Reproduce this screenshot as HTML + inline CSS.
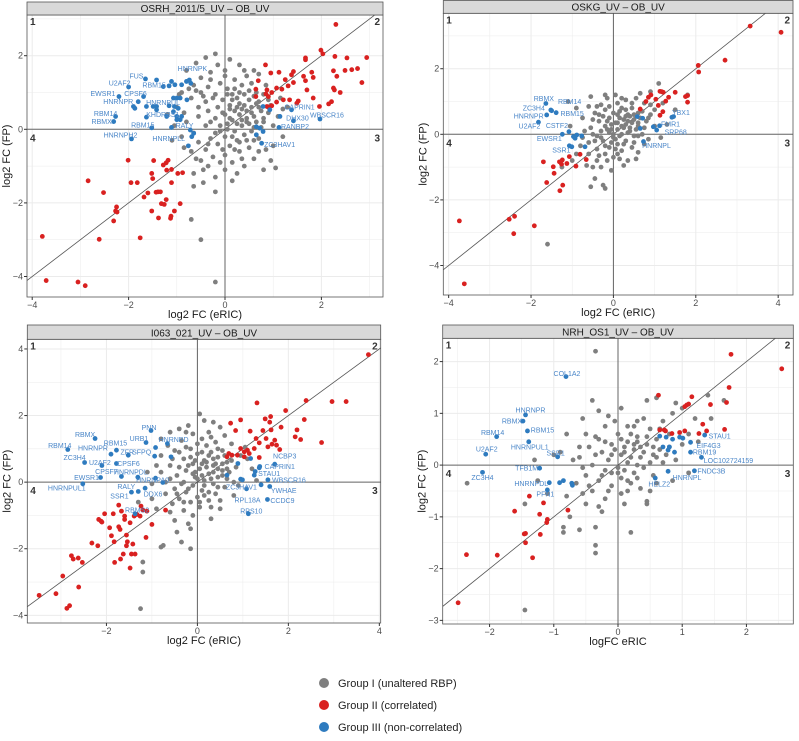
<!DOCTYPE html>
<html><head><meta charset="utf-8"><style>
body{margin:0;background:#fff;width:799px;height:741px;overflow:hidden;font-family:"Liberation Sans",Arial,sans-serif}
svg{display:block}
</style></head><body>
<svg id="chart" width="799" height="741" viewBox="0 0 799 741" xmlns="http://www.w3.org/2000/svg" font-family="Liberation Sans, Arial, sans-serif">
<g id="legend">
<g><circle cx="324" cy="683" r="5" fill="#7f7f7f"/><text x="338" y="687" font-size="11" fill="#222">Group I (unaltered RBP)</text></g>
<g><circle cx="324" cy="705" r="5" fill="#d92120"/><text x="338" y="709" font-size="11" fill="#222">Group II (correlated)</text></g>
<g><circle cx="324" cy="727" r="5" fill="#2e7bbf"/><text x="338" y="731" font-size="11" fill="#222">Group III (non-correlated)</text></g>
</g>
</svg>
<script>
// ---------- Panel 1 data ----------
const p1Gray=[[-0.2,2.05],[-0.4,1.95],[0.1,1.9],[0.3,1.75],[0.6,1.6],[-0.6,1.8],[-0.8,1.6],[-0.3,1.55],[0,1.6],[0.45,1.45],[0.7,1.5],[-0.5,1.4],[0.2,1.35],[-0.1,1.25],[0.35,1.2],[0.55,1.25],[-0.65,1.2],[-0.35,1.15],[0.05,1.1],[0.85,1.2],[-0.9,1.0],[-0.5,1.0],[-0.2,0.95],[0.15,0.95],[0.4,0.95],[0.65,1.0],[0.25,0.85],[0.5,0.8],[-0.05,0.8],[-0.7,0.85],[-0.4,0.75],[0.7,0.75],[0.3,0.7],[0.1,0.65],[-0.15,0.6],[0.55,0.6],[0.45,0.5],[0.2,0.5],[-0.35,0.5],[0.75,0.5],[0.9,0.45],[0,0.4],[0.3,0.4],[0.6,0.35],[-0.55,0.35],[-0.2,0.3],[0.15,0.25],[0.45,0.2],[0.8,0.2],[-0.8,0.2],[0.05,0.15],[0.35,0.1],[-0.4,0.1],[0.6,0.05],[0.2,-0.05],[-0.1,-0.05],[-0.65,-0.1],[0.4,-0.15],[0,-0.2],[-0.3,-0.25],[0.7,-0.25],[0.25,-0.3],[-0.55,-0.35],[-0.15,-0.4],[0.1,-0.45],[0.5,-0.5],[-0.4,-0.55],[0.3,-0.6],[-0.7,-0.6],[0,-0.7],[-0.25,-0.75],[0.6,-0.8],[-0.5,-0.85],[0.15,-0.9],[0.95,-0.85],[-0.35,-1.0],[0,-1.1],[0.4,-1.0],[0.8,-1.1],[-0.65,-1.2],[-0.2,-1.3],[-0.45,-1.45],[-0.65,-1.55],[-0.2,-1.7],[-0.7,-2.45],[-0.5,-3.0],[-0.2,-4.15],[1.0,-0.45],[1.2,-0.2],[1.0,0.1],[1.1,0.35],[1.3,0.6],[0.95,0.65],[1.15,0.85],[-1.0,0.6],[-1.2,0.4],[-1.05,0.1],[-0.9,-0.2],[-0.85,-0.5],[-1.1,-0.3],[-0.55,0.6],[0.85,-0.55],[0.6,-0.3],[0.25,0.15],[0.5,0.15],[0.1,0.3],[0.35,0.55],[-0.05,0.45],[0.65,0.7],[0.2,1.1],[0.45,0.3],[0.55,-0.05],[0.75,0.05],[-0.3,0.2],[0.3,-0.35],[-0.1,0.1],[0.15,-0.2]];
const p1GrayExtra=[[0.1,0.55],[0.4,0.65],[0.6,0.9],[0.8,0.95],[0.3,1.0],[0.5,1.05],[0.15,0.8],[0.7,0.6],[0.9,0.8],[0.25,0.6],[0.05,0.95],[-0.25,0.85],[-0.45,0.9],[-0.6,1.05],[-0.75,1.1],[-0.3,1.35],[0,1.45],[0.4,1.6],[-0.15,1.75],[0.55,0.45],[0.8,0.3],[0.65,0.2],[0.35,0.25],[0.05,0],[-0.2,-0.1],[0.45,-0.3],[0.2,-0.55],[-0.05,-0.55],[-0.35,-0.4],[0.7,-0.6],[0.35,-0.8],[-0.6,-0.8],[-0.1,-0.9],[0.25,-1.2],[-0.45,-1.1],[1.05,-1.05],[0.15,-1.4],[-0.85,0.45],[-0.95,0.95],[1.2,0.55]];
const p1Red=[[2.3,2.85],[1.99,2.15],[2.03,2.05],[2.28,1.98],[1.67,1.94],[1.67,1.89],[2.53,1.94],[2.94,1.95],[2.75,1.65],[2.63,1.62],[2.49,1.6],[2.25,1.59],[2.32,1.44],[2.84,1.27],[2.25,1.12],[2.27,1.07],[2.39,1.0],[1.8,1.55],[1.83,1.41],[1.67,1.32],[1.63,1.44],[1.42,1.57],[1.38,1.48],[1.25,1.35],[1.12,1.55],[0.95,1.53],[0.84,1.75],[1.42,1.27],[1.31,1.18],[1.18,1.09],[1.07,1.12],[0.87,1.07],[0.97,1.0],[0.9,0.89],[0.85,0.96],[0.64,0.89],[1.83,0.85],[1.7,1.07],[2.15,0.69],[2.21,0.75],[1.96,0.62],[1.52,0.77],[1.49,0.71],[1.34,0.8],[1.21,0.8],[1.07,0.74],[0.97,0.64],[0.87,0.62],[0.9,0.6],[0.69,1.32],[0.64,1.09],
[-3.79,-2.91],[-3.71,-4.11],[-3.05,-4.15],[-2.9,-4.25],[-2.84,-1.4],[-2.52,-1.72],[-2.61,-2.99],[-2.25,-2.11],[-2.27,-2.22],[-2.24,-2.25],[-2.31,-2.49],[-2.01,-0.84],[-1.95,-1.45],[-1.82,-1.45],[-1.76,-2.95],[-1.68,-1.84],[-1.6,-1.73],[-1.52,-1.2],[-1.48,-0.85],[-1.5,-1.34],[-1.52,-2.22],[-1.43,-1.71],[-1.39,-1.7],[-1.34,-1.7],[-1.32,-2.02],[-1.26,-2.04],[-1.22,-1.91],[-1.38,-2.41],[-1.28,-0.97],[-1.22,-0.91],[-1.18,-0.84],[-1.21,-1.11],[-1.11,-1.09],[-1.11,-1.45],[-1.12,-2.36],[-1.13,-2.42],[-1.05,-2.22],[-0.98,-1.2],[-0.88,-1.18],[-0.93,-2.02]];
const p1Blue=[[-1.65,1.37,"FUS"],[-2.0,1.15,"U2AF2"],[-1.16,1.18,"RBM15"],[-2.2,0.89,"EWSR1"],[-1.69,0.89,"CPSF6"],[-1.8,0.75,"HNRNPR"],[-1.16,0.64,"HNRNPUL"],[-0.8,1.3,"HNRNPK"],[-2.27,0.35,"RBM14"],[-2.31,0.21,"RBMX"],[-1.0,0.35,"KHDRBS1"],[-1.52,0.04,"RBM15"],[-1.11,0.05,"RALY"],[-1.94,-0.26,"HNRNPH2"],[-0.69,-0.2,"HNRNPLL"],[1.38,0.53,"CAPRIN1"],[1.42,0.23,"DHX30"],[1.97,0.28,"WBSCR16"],[1.12,0.05,"RANBP2"],[0.76,-0.38,"ZC3HAV1"],
[-1.42,1.34,""],[-1.11,1.3,""],[-1.04,1.21,""],[-0.9,1.21,""],[-0.74,1.34,""],[-0.71,1.25,""],[-1.28,1.16,""],[-1.63,0.62,""],[-1.49,0.62,""],[-1.42,0.53,""],[-1.9,0.62,""],[-1.87,0.57,""],[-1.63,0.33,""],[-1.07,0.85,""],[-1.0,0.85,""],[-0.93,0.85,""],[-0.79,0.8,""],[-1.05,0.62,""],[-1.0,0.26,""],[-0.93,0.26,""],[-0.9,0.35,""],[-1.07,0.48,""],[-0.97,0.57,""],[-1.42,0.62,""],[-1.21,0.35,""],[-0.72,-0.02,""],[-0.65,-0.11,""],[-0.76,-0.45,""],[0.65,0.07,""],[0.72,0.03,""],[0.79,-0.06,""],[0.65,-0.15,""],[1.14,0.35,""],[0.93,0.53,""],[0.79,0.62,""]];
const p1LabelOffsets=[[-9,-3],[-9,-4],[-15,-1],[-16,-3],[-8,-3],[-20,0],[-6,-3],[6,-13],[-10,-3],[-12,0],[-14,-2],[-9,-3],[13,-2],[-11,-4],[-23,2],[8,-3],[4,-3],[7,-4],[16,-1],[18,1]];
// ---------- Panel 2 data ----------
const p2Gray=[[1.8,1.2],[1.1,1.55],[0.9,1.3],[-0.55,1.15],[-0.15,1.1],[0.3,1.05],[0.55,1.1],[0.1,0.95],[-0.3,0.9],[0.75,0.95],[-0.2,0.75],[0.2,0.8],[0.45,0.8],[0.6,0.65],[-0.45,0.65],[0,0.65],[0.35,0.6],[-0.1,0.5],[0.15,0.5],[0.5,0.45],[-0.35,0.4],[0.8,0.4],[0.05,0.35],[0.3,0.3],[-0.2,0.25],[0.6,0.25],[-0.55,0.2],[0.1,0.15],[0.4,0.1],[-0.1,0.05],[0.2,0],[-0.4,-0.05],[0.5,-0.05],[0,-0.1],[-0.25,-0.2],[0.3,-0.2],[-0.6,-0.25],[0.1,-0.3],[-0.1,-0.4],[0.45,-0.4],[-0.4,-0.45],[0.2,-0.5],[-0.2,-0.6],[0.6,-0.55],[-0.6,-0.6],[0,-0.7],[0.35,-0.8],[-0.4,-0.8],[0.25,-0.95],[-0.3,-1.0],[-0.05,-1.1],[-0.45,-1.35],[-0.25,-1.55],[-0.55,-1.6],[-0.2,-1.65],[-1.6,-3.35],[-1.25,-1.0],[-1.0,-0.8],[-0.8,-0.35],[-1.05,0.25],[-0.75,0.5],[-0.9,0.8],[-1.1,1.0],[-0.2,1.2],[0.9,0.6],[1.0,0.25],[0.85,-0.15],[1.2,0.95],[0.65,1.25],[0.4,0.55],[0.7,0],[-0.75,-0.1],[-0.5,0],[0.15,0.7],[-0.05,0.3],[0.25,0.45],[0.55,0.15],[-0.3,-0.1],[0.05,-0.15],[0.35,0.05],[-0.15,0.15],[0.45,0.35],[0.1,0.35],[-0.05,-0.25],[0.25,0.2],[0.75,0.2],[-0.65,-0.95],[-0.9,-0.6],[0.15,-0.75],[1.5,0.75],[1.3,0.3],[1.15,-0.1],[-0.35,0.6],[0.65,0.5]];
const p2GrayExtra=[[0.1,0.6],[0.3,0.75],[-0.1,0.85],[0.5,0.6],[0.2,0.25],[-0.15,0.4],[0.4,0.2],[0,0],[-0.3,0.1],[0.15,-0.05],[0.6,0.35],[0.35,0.4],[-0.2,-0.35],[0.25,-0.3],[-0.45,-0.2],[0.05,-0.45],[0.5,-0.25],[-0.35,-0.65],[0.1,-0.6],[0.45,0.95],[0.7,0.7],[-0.5,0.45],[0.9,0.9],[0.2,1.1],[-0.4,0.85],[0.75,-0.3],[-0.7,0.1],[-0.15,-0.8],[0.55,-0.75],[-0.5,-1.0],[0.3,0.55],[-0.05,0.15],[0.6,-0.05],[1.0,0.75],[-0.25,0.55],[0.05,1.2],[-0.6,0.85],[0.85,0.5]];
const p2Red=[[3.32,3.3],[4.07,3.11],[2.71,2.26],[2.06,2.1],[2.07,1.9],[1.8,1.18],[1.8,0.98],[1.75,1.15],[1.5,1.28],[1.34,1.13],[1.27,1.01],[1.17,1.3],[1.13,1.31],[1.21,1.28],[0.91,1.2],[0.85,1.13],[1.03,1.07],[1.09,0.88],[1.13,0.58],[1.2,0.69],[0.65,0.77],[0.79,1.0],[-1.7,-0.84],[-1.62,-1.47],[-1.46,-0.99],[-1.44,-1.19],[-1.31,-0.84],[-1.26,-0.91],[-1.24,-0.78],[-1.23,-1.55],[-1.3,-1.72],[-1.13,-0.89],[-1.07,-0.68],[-0.91,-0.97],[-0.81,-0.61],[-0.66,-0.77],[-3.74,-2.64],[-3.62,-4.56],[-2.53,-2.59],[-2.4,-2.5],[-2.42,-3.03],[-1.92,-2.79]];
const p2Blue=[[-1.64,0.94,"RBMX"],[-1.5,0.72,"RBM14"],[-1.52,0.74,"ZC3H4"],[-1.39,0.66,"RBM15"],[-1.62,0.59,"HNRNPR"],[-1.82,0.37,"U2AF2"],[-1.08,0.08,"CSTF2"],[-1.24,0,"EWSR1"],[-1.07,-0.35,"SSR1"],[1.42,0.52,"YBX1"],[1.12,0.26,"FMR1"],[1.05,0.13,"SRP68"],[0.73,-0.22,"HNRNPL"],
[1.46,0.54,""],[-0.97,-0.07,""],[-0.93,-0.12,""],[-0.89,-0.02,""],[-0.77,-0.05,""],[-0.69,-0.38,""],[-1.01,-0.38,""],[0.65,0.18,""],[0.97,0.23,""],[0.58,0.54,""],[0.71,0.49,""]];
const p2LabelOffsets=[[-2,-5],[18,-9],[-17,-2],[16,1],[-18,1],[-9,4],[-12,-6],[-13,4],[-8,4],[9,-5],[11,-2],[19,2],[13,4]];
// ---------- Panel 3 data ----------
const p3Gray=[[0.05,2.05],[-0.2,1.7],[0.15,1.85],[0.35,1.8],[0.5,1.65],[-0.4,1.6],[-0.6,1.5],[-0.8,1.3],[0.25,1.5],[-0.1,1.45],[0.6,1.4],[0.1,1.3],[-0.35,1.25],[0.4,1.2],[-0.65,1.1],[0.2,1.1],[0.75,1.15],[-0.15,1.0],[0.55,0.95],[-0.5,0.95],[0.3,0.9],[0,0.85],[-0.8,0.8],[0.45,0.75],[-0.3,0.7],[0.15,0.65],[0.65,0.6],[-0.1,0.55],[0.35,0.5],[-0.6,0.5],[0.05,0.4],[0.55,0.35],[-0.25,0.35],[0.25,0.25],[-0.45,0.2],[0.45,0.15],[-0.05,0.15],[0.15,0.05],[-0.3,0],[0.35,-0.05],[-0.1,-0.1],[0.6,-0.15],[-0.5,-0.2],[0.1,-0.25],[-0.25,-0.3],[0.4,-0.35],[-0.7,-0.35],[0,-0.45],[-0.4,-0.5],[0.25,-0.55],[-0.15,-0.6],[0.5,-0.55],[-0.55,-0.65],[0.05,-0.75],[-0.3,-0.85],[0.3,-1.1],[-0.1,-1.0],[-0.5,-1.15],[-0.2,-1.25],[-0.35,-1.8],[-0.15,-2.0],[-0.8,-1.95],[-0.75,-1.9],[-1.2,-2.4],[-1.2,-2.7],[-1.25,-3.8],[-1.0,-0.5],[-1.3,-0.6],[-0.9,-0.8],[-1.1,0.3],[-0.9,0.5],[-1.0,-0.05],[0.85,0.45],[0.95,0.8],[0.7,0.3],[1.2,0.4],[0.9,-0.1],[1.3,0.05],[0.8,-0.4],[0.5,-0.8],[0.2,0.45],[0.4,0.55],[0.1,0.2],[-0.2,0.5],[0.3,0.1],[0,0.1],[-0.05,0.3],[0.25,0.8],[-0.4,0.45],[0.6,0.8],[0.65,0.1],[-0.35,-0.05],[0.15,-0.4],[-0.6,0.1],[0.45,0.4],[-0.15,0.75],[1.05,1.05],[-0.25,1.05]];
const p3GrayExtra=[[0.2,0.6],[0.45,1.0],[0.1,0.9],[-0.1,0.25],[0.35,0.3],[0.55,0.55],[0.75,0.65],[-0.4,0.9],[-0.55,0.7],[0,1.15],[0.3,1.35],[-0.25,1.5],[0.15,-0.1],[-0.2,-0.2],[0.45,-0.15],[-0.45,-0.35],[0.05,-0.6],[-0.3,-0.6],[0.3,-0.75],[-0.6,-0.9],[-0.15,-1.4],[-0.45,-1.5],[0.8,0],[1.1,0.7],[0.65,0.4],[-0.8,0.3],[-0.7,0],[0.1,0.55],[0.35,0.7],[-0.05,0.65],[0.55,0.2],[0.25,-0.3]];
const p3Red=[[3.76,3.83],[2.39,2.45],[2.96,2.42],[3.27,2.42],[1.31,2.38],[1.94,2.15],[2.35,1.88],[1.49,1.9],[1.61,1.97],[1.59,1.8],[0.73,1.77],[0.95,1.87],[2.19,1.57],[1.84,1.65],[1.44,1.55],[1.62,1.57],[0.84,1.55],[1.16,1.53],[2.15,1.36],[2.27,1.28],[2.73,1.19],[1.51,1.31],[1.7,1.26],[1.64,1.14],[1.74,1.11],[1.81,0.98],[1.55,1.06],[1.29,1.31],[1.36,1.18],[1.25,1.01],[1.1,0.96],[0.95,1.01],[1.03,0.91],[0.88,0.81],[1.03,0.76],[1.14,0.86],[0.76,0.81],[1.36,0.74],[0.69,0.86],[0.65,0.76],
[-3.48,-3.4],[-3.11,-3.35],[-2.96,-2.82],[-2.87,-3.79],[-2.81,-3.71],[-2.61,-3.15],[-2.77,-2.21],[-2.73,-2.31],[-2.62,-2.28],[-2.53,-2.41],[-2.32,-1.83],[-2.19,-1.91],[-2.17,-1.12],[-2.12,-1.17],[-2.1,-1.2],[-2.04,-0.95],[-1.85,-0.95],[-1.93,-1.37],[-1.89,-1.61],[-1.83,-1.79],[-1.82,-2.41],[-1.73,-0.69],[-1.73,-1.34],[-1.7,-1.42],[-1.67,-0.87],[-1.6,-1.02],[-1.6,-1.12],[-1.56,-1.59],[-1.54,-1.79],[-1.56,-1.91],[-1.69,-2.31],[-1.63,-2.16],[-1.48,-2.58],[-1.45,-2.16],[-1.37,-2.16],[-1.42,-1.86],[-1.48,-1.22],[-1.39,-1.02],[-1.33,-0.97],[-1.26,-1.02],[-1.24,-0.72],[-1.2,-0.84],[-1.11,-0.87],[-1.13,-1.66],[-1.0,-1.27],[-0.7,-0.84]];
const p3Blue=[[-2.25,1.31,"RBMX"],[-2.85,0.98,"RBM14"],[-1.78,0.96,"RBM15"],[-1.9,0.84,"HNRNPR"],[-2.48,0.59,"ZC3H4"],[-2.1,0.5,"U2AF2"],[-1.78,0.56,"CPSF6"],[-1.52,0.81,"ZFR"],[-0.94,0.78,"SFPQ"],[-1.13,1.19,"URB1"],[-1.02,1.55,"PNN"],[-0.92,1.04,"HNRNPD"],[-2.13,0.14,"EWSR1"],[-1.67,0.17,"CPSF7"],[-1.31,0.15,"HNRNPDL"],[-0.92,0.12,"HNRNPA0"],[-2.52,-0.05,"HNRNPUL1"],[-1.3,-0.28,"RALY"],[-1.45,-0.3,"SSR1"],[-1.15,-0.18,"DDX6"],[-1.37,-0.95,"RBMS2"],[1.7,0.54,"NCBP3"],[1.37,0.47,"CAPRIN1"],[1.27,0.32,"STAU1"],[1.55,0.07,"WBSCR16"],[0.99,0.07,"ZC3HAV1"],[1.59,-0.13,"YWHAE"],[1.08,-0.2,"RPL18A"],[1.54,-0.52,"CCDC9"],[1.12,-0.95,"RPS10"],
[0.89,0.56,""],[1.17,0.71,""],[1.36,0.43,""],[1.25,0.21,""],[1.4,-0.08,""],[0.95,0.09,""],[0.65,0.21,""],[-0.76,-0.01,""],[-0.58,0.76,""],[-0.66,1.16,""]];
const p3LabelOffsets=[[-10,-4],[-8,-4],[-1,-7],[-18,-6],[-10,-5],[-2,-3],[12,0],[-1,-3],[-13,-4],[-7,-4],[-2,-3],[18,-8],[-14,0],[-15,-5],[-7,-5],[-3,2],[-16,4],[-12,-5],[-12,4],[8,6],[2,-4],[10,-8],[20,0],[14,2],[21,0],[-1,7],[14,4],[1,11],[15,1],[3,-3]];
// ---------- Panel 4 data ----------
const p4Gray=[[-0.35,2.2],[-0.4,1.25],[-0.55,0.9],[-0.15,0.95],[0.05,1.1],[-0.3,1.05],[0.45,1.25],[0.6,1.3],[0.9,1.2],[0.85,1.0],[1.0,1.1],[1.4,1.35],[1.65,1.25],[0.3,0.85],[0.15,0.75],[-0.2,0.75],[0.5,0.7],[-0.5,0.6],[0.7,0.85],[0,0.6],[0.3,0.55],[-0.3,0.5],[0.6,0.5],[0.15,0.45],[-0.1,0.4],[0.45,0.4],[-0.45,0.35],[0.8,0.35],[0.25,0.3],[-0.25,0.25],[0.05,0.2],[0.55,0.2],[-0.6,0.15],[0.35,0.15],[-0.15,0.1],[0.15,0.05],[0.7,0.05],[-0.4,0],[0,-0.05],[0.4,-0.05],[-0.2,-0.1],[0.25,-0.15],[-0.5,-0.2],[0.05,-0.25],[0.55,-0.2],[-0.3,-0.3],[0.2,-0.35],[-0.65,-0.35],[-0.1,-0.4],[0.35,-0.45],[-0.4,-0.5],[0.05,-0.55],[0.45,-0.7],[-0.2,-0.65],[-0.5,-0.75],[-0.8,-0.6],[-0.75,-1.0],[-0.85,-1.2],[-0.85,-1.3],[-0.6,-1.25],[-0.35,-1.2],[-0.35,-1.55],[-0.35,-1.7],[-0.25,-0.9],[0.2,-1.3],[-1.45,-2.8],[-2.35,-0.35],[-1.45,-0.75],[-1.25,-0.3],[-1.0,0.2],[-0.8,0.6],[-0.9,0.25],[-1.3,0.1],[-1.1,-0.55],[1.2,0.9],[1.1,0.6],[1.0,0.4],[1.25,0.45],[0.9,0.1],[1.1,-0.15],[0.85,-0.3],[0.45,-0.75],[0.1,0.25],[0.3,0],[-0.05,0.3],[0.2,0.6],[-0.35,0.55],[0.65,0.3],[0.4,0.25],[-0.1,-0.15],[0.1,-0.1],[0.5,0.05],[-0.55,-0.05],[0.25,0.4],[0.8,0.6],[1.45,0.9]];
const p4GrayExtra=[[0.1,0.35],[0.35,0.35],[-0.2,0.45],[0.45,0.55],[0.6,0.15],[0.05,0.5],[-0.35,0.2],[0.2,0.15],[0,-0.15],[-0.25,-0.2],[0.3,-0.25],[-0.45,-0.4],[0.15,-0.5],[-0.15,-0.5],[0.6,-0.35],[0.25,0.75],[-0.05,0.85],[0.4,0.9],[-0.6,0.35],[0.75,0.2],[0.5,-0.5],[-0.55,-0.55],[-0.3,-0.8],[0.1,-0.75],[-0.7,0.1],[0.3,0.45],[0.55,0.35],[-0.1,0.2],[0.15,-0.3],[0.65,0.7]];
const p4Red=[[1.76,2.14],[2.55,1.86],[1.73,1.5],[1.69,1.21],[1.44,1.17],[1.15,1.32],[1.07,1.16],[1.04,1.13],[1.1,1.18],[0.63,1.35],[1.32,0.79],[1.66,0.69],[1.38,0.66],[1.26,0.61],[1.04,0.66],[0.96,0.63],[0.84,0.61],[0.72,0.68],[0.74,0.66],[0.65,0.68],[-1.38,-0.6],[-1.61,-0.89],[-1.16,-0.73],[-1.22,-0.95],[-1.1,-1.05],[-1.11,-1.11],[-1.44,-1.32],[-1.46,-1.33],[-1.21,-1.34],[-1.44,-1.5],[-1.33,-1.79],[-1.88,-1.74],[-2.36,-1.73],[-2.49,-2.66],[-0.78,-0.87]];
const p4Blue=[[-0.81,1.71,"COL1A2"],[-1.44,0.97,"HNRNPR"],[-1.48,0.85,"RBMX"],[-1.41,0.66,"RBM15"],[-1.89,0.55,"RBM14"],[-1.39,0.45,"HNRNPUL1"],[-2.06,0.21,"U2AF2"],[-0.94,0.16,"SSR1"],[-1.22,-0.06,"TFB1M"],[-2.11,-0.14,"ZC3H4"],[-1.07,-0.34,"HNRNPDL"],[-1.1,-0.48,"PFN1"],[1.35,0.58,"STAU1"],[1.13,0.44,"EIF4G3"],[1.13,0.25,"RBM19"],[1.3,0.15,"LOC102724159"],[1.19,-0.11,"FNDC3B"],[0.78,-0.12,"HNRNPL"],[0.58,-0.25,"HELZ2"],
[0.65,0.56,""],[0.75,0.54,""],[0.85,0.5,""],[0.96,0.54,""],[1.01,0.52,""],[0.8,0.35,""],[0.88,0.25,""],[0.7,0.35,""],[0.78,0.29,""],[-0.85,-0.3,""],[-0.72,-0.35,""],[-0.71,-0.39,""],[-0.91,-0.34,""]];
const p4LabelOffsets=[[1,-3],[5,-5],[-11,0],[15,-1],[-4,-4],[1,5],[1,-5],[-2,-4],[-13,0],[0,5],[-18,1],[-2,4],[15,1],[18,3],[14,0],[27,3],[17,0],[19,6],[4,6]];

const NS="http://www.w3.org/2000/svg";
const svg=document.getElementById('chart');
const COL={gray:"#7f7f7f",red:"#d92120",blue:"#2e7bbf",lbl:"#4a86c8"};
function mk(tag,attrs,parent){const e=document.createElementNS(NS,tag);for(const k in attrs)e.setAttribute(k,attrs[k]);parent.appendChild(e);return e;}

function drawPanel(c,gray,red,blue,offs){
  const g=mk('g',{},svg);
  
  
  const sx=v=>c.l+(v-c.x0)/(c.x1-c.x0)*(c.r-c.l);
  const sy=v=>c.b-(v-c.y0)/(c.y1-c.y0)*(c.b-c.t);
  mk('rect',{x:c.l,y:c.t,width:c.r-c.l,height:c.b-c.t,fill:"#fff"},g);
  const clipId='clip'+c.id;
  const cp=mk('clipPath',{id:clipId},g);mk('rect',{x:c.l,y:c.t,width:c.r-c.l,height:c.b-c.t},cp);
  const grid=mk('g',{stroke:"#ebebeb"},g);
  
  
  for(let v=Math.ceil(c.x0/c.minor)*c.minor;v<=c.x1;v+=c.minor){mk('line',{x1:sx(v),x2:sx(v),y1:c.t,y2:c.b,'stroke-width':(Math.abs(v/c.major-Math.round(v/c.major))<1e-6)?1:0.5},grid);}
  for(let v=Math.ceil(c.y0/c.yminor)*c.yminor;v<=c.y1;v+=c.yminor){mk('line',{y1:sy(v),y2:sy(v),x1:c.l,x2:c.r,'stroke-width':(Math.abs(v/c.ymajor-Math.round(v/c.ymajor))<1e-6)?1:0.5},grid);}
  const pl=mk('g',{'clip-path':`url(#${clipId})`},g);
  const zx=mk('line',{x1:sx(0),x2:sx(0),y1:c.t,y2:c.b,stroke:"#666",'stroke-width':1},pl);
  
  
  const zy=mk('line',{x1:c.l,x2:c.r,y1:sy(0),y2:sy(0),stroke:"#666",'stroke-width':1},pl);
  
  
  const lo=Math.min(c.x0,c.y0),hi=Math.max(c.x1,c.y1);
  const dg=mk('line',{x1:sx(lo),y1:sy(lo),x2:sx(hi),y2:sy(hi),stroke:"#555",'stroke-width':0.8},pl);
  
  
  const dots=(arr,col,nm)=>{arr.forEach(p=>{const d=mk('circle',{cx:sx(p[0]),cy:sy(p[1]),r:2.4,fill:col},pl);
    
    });};
  dots(gray,COL.gray,'point-group-1');dots(red,COL.red,'point-group-2');dots(blue,COL.blue,'point-group-3');
  blue.forEach((p,i)=>{if(!p[2])return;const o=offs[i]||[0,-4];
    const t=mk('text',{x:sx(p[0])+o[0],y:sy(p[1])+o[1]+2.5,'font-size':7,fill:COL.lbl,'text-anchor':'middle'},pl);t.textContent=p[2];
    
    });
  const qn=[[1,c.l+3,c.t+10,'start'],[2,c.r-3,c.t+10,'end'],[3,c.r-3,sy(0)+12,'end'],[4,c.l+3,sy(0)+12,'start']];
  qn.forEach(q=>{const t=mk('text',{x:q[1],y:q[2],'font-size':10,'font-weight':'bold',fill:"#333",'text-anchor':q[3]},g);t.textContent=q[0];
    
    });
  mk('rect',{x:c.l,y:c.t,width:c.r-c.l,height:c.b-c.t,fill:"none",stroke:"#555",'stroke-width':0.8},g);
  const st=mk('rect',{x:c.l,y:c.st,width:c.r-c.l,height:c.t-c.st,fill:"#d9d9d9",stroke:"#555",'stroke-width':0.8},g);
  
  
  const tt=mk('text',{x:(c.l+c.r)/2,y:c.t-3,'font-size':10,fill:"#1a1a1a",'text-anchor':'middle'},g);tt.textContent=c.title;
  
  
  c.xt.forEach(v=>{mk('line',{x1:sx(v),x2:sx(v),y1:c.b,y2:c.b+3,stroke:"#333"},g);
    const t=mk('text',{x:sx(v),y:c.b+11,'font-size':9,fill:"#4d4d4d",'text-anchor':'middle'},g);t.textContent=v<0?'\u2212'+(-v):v;
    
    });
  c.yt.forEach(v=>{mk('line',{x1:c.l-3,x2:c.l,y1:sy(v),y2:sy(v),stroke:"#333"},g);
    const t=mk('text',{x:c.l-4,y:sy(v)+3,'font-size':9,fill:"#4d4d4d",'text-anchor':'end'},g);t.textContent=v<0?'\u2212'+(-v):v;
    
    });
  const xt=mk('text',{x:(c.l+c.r)/2,y:c.b+21,'font-size':11,fill:"#1a1a1a",'text-anchor':'middle'},g);xt.textContent=c.xlab;
  
  
  const yc=(c.t+c.b)/2,yx=c.l-17;
  const yt=mk('text',{x:yx,y:yc,'font-size':11,fill:"#1a1a1a",'text-anchor':'middle',transform:`rotate(-90 ${yx} ${yc})`},g);yt.textContent="log2 FC (FP)";
  
  
}
drawPanel({id:1,name:'panel-osrh',title:'OSRH_2011/5_UV \u2013 OB_UV',l:27,r:383,t:15,b:297,st:2,x0:-4.108,x1:3.278,y0:-4.557,y1:3.106,minor:1,major:2,yminor:1,ymajor:2,xt:[-4,-2,0,2],yt:[-4,-2,0,2],xlab:'log2 FC (eRIC)'},p1Gray.concat(p1GrayExtra),p1Red,p1Blue,p1LabelOffsets);
drawPanel({id:2,name:'panel-oskg',title:'OSKG_UV \u2013 OB_UV',l:443.3,r:793,t:13.3,b:295,st:0.5,x0:-4.13,x1:4.36,y0:-4.9,y1:3.69,minor:1,major:2,yminor:1,ymajor:2,xt:[-4,-2,0,2,4],yt:[-4,-2,0,2],xlab:'log2 FC (eRIC)'},p2Gray.concat(p2GrayExtra),p2Red,p2Blue,p2LabelOffsets);
drawPanel({id:3,name:'panel-i063',title:'I063_021_UV \u2013 OB_UV',l:27.3,r:380.7,t:339.3,b:623,st:325,x0:-3.74,x1:4.03,y0:-4.23,y1:4.29,minor:1,major:2,yminor:1,ymajor:2,xt:[-2,0,2,4],yt:[-4,-2,0,2,4],xlab:'log2 FC (eRIC)'},p3Gray.concat(p3GrayExtra),p3Red,p3Blue,p3LabelOffsets);
drawPanel({id:4,name:'panel-nrh',title:'NRH_OS1_UV \u2013 OB_UV',l:442.7,r:793.3,t:338.3,b:624,st:325,x0:-2.73,x1:2.73,y0:-3.07,y1:2.45,minor:0.5,major:1,yminor:0.5,ymajor:1,xt:[-2,-1,0,1,2],yt:[-3,-2,-1,0,1,2],xlab:'logFC eRIC'},p4Gray.concat(p4GrayExtra),p4Red,p4Blue,p4LabelOffsets);
</script>
</body></html>
